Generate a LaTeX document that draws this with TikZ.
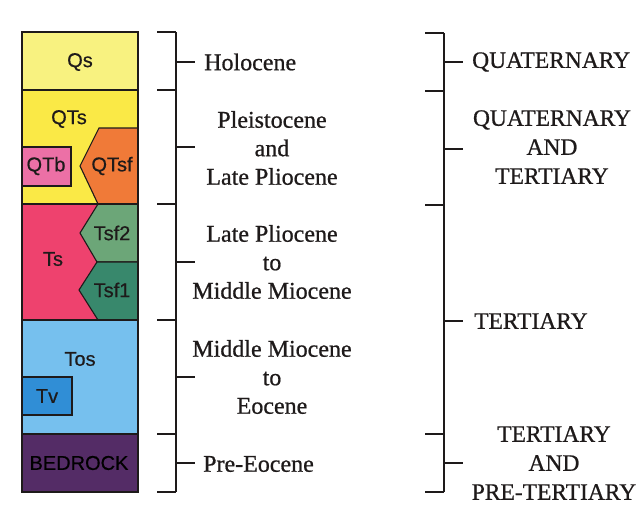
\documentclass[tikz,border=0pt]{standalone}
\usepackage{fontspec}
\setmainfont{Liberation Serif}[FakeBold=0.7]
\newfontfamily\labfont{Liberation Sans}[FakeBold=0.5]
\definecolor{cQs}{RGB}{248,242,128}
\definecolor{cQTs}{RGB}{250,233,70}
\definecolor{cQTb}{RGB}{236,112,166}
\definecolor{cQTsf}{RGB}{240,122,56}
\definecolor{cTs}{RGB}{238,66,110}
\definecolor{cTsfb}{RGB}{108,166,120}
\definecolor{cTsfa}{RGB}{56,136,108}
\definecolor{cTos}{RGB}{118,192,238}
\definecolor{cTv}{RGB}{48,142,214}
\definecolor{cBed}{RGB}{84,44,102}
\definecolor{ink}{RGB}{30,26,26}
\begin{document}
\begin{tikzpicture}[x=1pt,y=-1pt,
  unit/.style={draw=ink,line width=1.1pt,line join=miter},
  ulabel/.style={font=\labfont\fontsize{20}{22}\selectfont,inner sep=0pt,text=ink},
  epoch/.style={font=\fontsize{24}{28.5}\selectfont,align=center,inner sep=0pt,text=ink},
  period/.style={font=\fontsize{23.5}{29}\selectfont,align=center,inner sep=0pt,text=ink},
  brk/.style={line width=1.6pt,draw=ink}]
\useasboundingbox[fill=white] (0,0) rectangle (641,517);
% layers
\fill[cQs] (22,32) rectangle (138,90);
\fill[cQTs] (22,90) rectangle (138,204);
\fill[cTs] (22,204) rectangle (138,320);
\fill[cTos] (22,320) rectangle (138,434);
\fill[cBed] (22,434) rectangle (138,492);
\filldraw[fill=cQTsf,unit] (138,128) -- (99,128) -- (80,166) -- (98,204) -- (138,204);
\filldraw[fill=cTsfb,unit] (98,204) -- (80,233) -- (97,262) -- (138,262) -- (138,204) -- cycle;
\filldraw[fill=cTsfa,unit] (97,262) -- (79,290) -- (98,320) -- (138,320) -- (138,262) -- cycle;
\filldraw[fill=cQTb,unit] (22,147) rectangle (71,186);
\filldraw[fill=cTv,unit] (22,377) rectangle (72,415);
\foreach \y in {90,204,320,434} \draw[unit] (22,\y) -- (138,\y);
\draw[unit] (22,32) rectangle (138,492);
% unit labels
\node[ulabel] (lQs) at (80,62) {Qs};
\node[ulabel] (lQTs) at (69,119) {QTs};
\node[ulabel] (lQTb) at (46,166) {QTb};
\node[ulabel] (lQTsf) at (112,166) {QTsf};
\node[ulabel] (lTsf2) at (112,233) {Tsf2};
\node[ulabel] (lTs) at (53,259) {Ts};
\node[ulabel] (lTsf1) at (112,290) {Tsf1};
\node[ulabel] (lTos) at (80,359) {Tos};
\node[ulabel] (lTv) at (47,396) {Tv};
\node[ulabel,text=black] (lBed) at (79,463) {BEDROCK};
% middle bracket
\draw[brk] (176,32) -- (176,492);
\foreach \y in {32,90,204,320,434,492} \draw[brk] (157,\y) -- (176,\y);
\foreach \y in {62,147,262,377,463} \draw[brk] (176,\y) -- (195,\y);
\node[epoch,anchor=west] (eHol) at (204,62) {Holocene};
\node[epoch] (ePle) at (272,148) {Pleistocene\\and\\Late Pliocene};
\node[epoch] (eLP) at (272,262) {Late Pliocene\\to\\Middle Miocene};
\node[epoch] (eMM) at (272,377) {Middle Miocene\\to\\Eocene};
\node[epoch,anchor=west] (ePre) at (203,464) {Pre-Eocene};
% right bracket
\draw[brk] (444,33) -- (444,492);
\foreach \y in {33,91,205,434,492} \draw[brk] (425,\y) -- (444,\y);
\foreach \y in {62,149,321,463} \draw[brk] (444,\y) -- (463,\y);
\node[period,anchor=west] (pQ) at (472,62) {QUATERNARY};
\node[period] (pQT) at (552,147) {QUATERNARY\\AND\\TERTIARY};
\node[period,anchor=west] (pT) at (474,321) {TERTIARY};
\node[period] (pTP) at (554,463) {TERTIARY\\AND\\PRE-TERTIARY};
\end{tikzpicture}
\end{document}
